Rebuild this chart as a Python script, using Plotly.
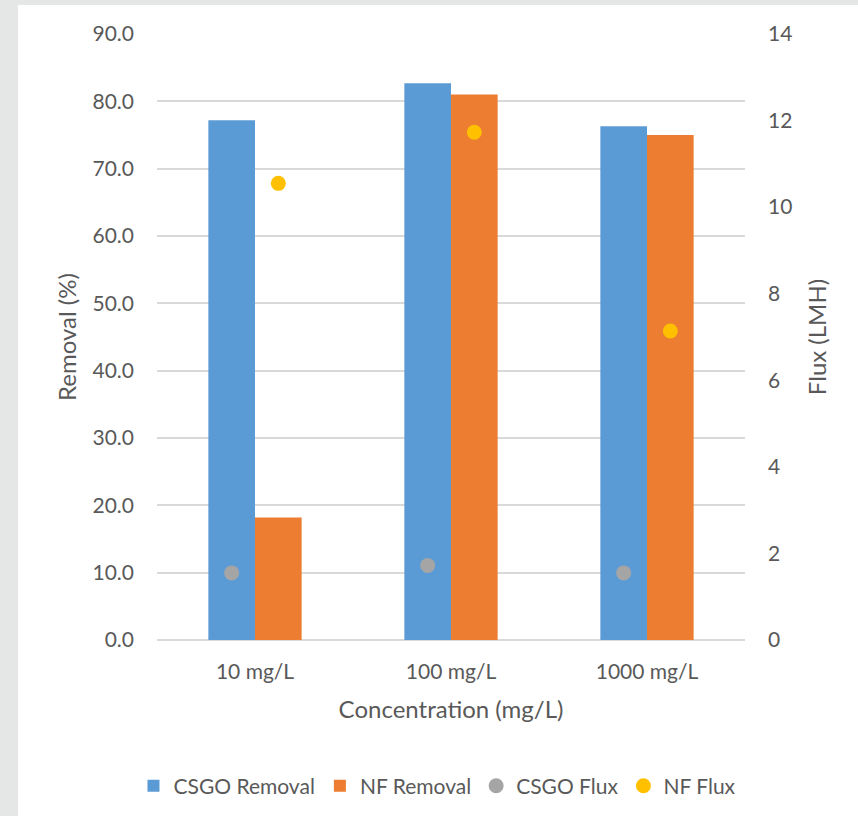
import plotly.graph_objects as go

# Concentration levels tested
categories = ["10 mg/L", "100 mg/L", "1000 mg/L"]

# Removal efficiency (%), left axis
csgo_removal = [77.2, 82.7, 76.3]
nf_removal = [18.2, 81.0, 75.0]

# Permeate flux (LMH), right axis
csgo_flux = [1.55, 1.72, 1.55]
nf_flux = [10.55, 11.73, 7.14]

left_ticks = [0, 10, 20, 30, 40, 50, 60, 70, 80, 90]
right_ticks = [0, 2, 4, 6, 8, 10, 12, 14]

FONT = "Lato"
TXT = "#595959"
BLUE, ORANGE, GREY, GOLD = "#5B9BD5", "#ED7D31", "#A5A5A5", "#FFC000"
GAP = 0.524

fig = go.Figure()
fig.add_trace(go.Bar(x=categories, y=csgo_removal, name="CSGO Removal",
                     marker=dict(color=BLUE, line=dict(width=0)), offsetgroup="a"))
fig.add_trace(go.Bar(x=categories, y=nf_removal, name="NF Removal",
                     marker=dict(color=ORANGE, line=dict(width=0)), offsetgroup="b"))
fig.add_trace(go.Scatter(x=categories, y=csgo_flux, name="CSGO Flux", mode="markers",
                         marker=dict(color=GREY, size=15), yaxis="y2",
                         offsetgroup="a"))
fig.add_trace(go.Scatter(x=categories, y=nf_flux, name="NF Flux", mode="markers",
                         marker=dict(color=GOLD, size=15), yaxis="y2",
                         offsetgroup="b"))

fig.update_layout(
    width=858, height=816,
    margin=dict(l=157, r=113, t=34, b=176, autoexpand=False),
    paper_bgcolor="#e4e7e5",
    plot_bgcolor="white",
    barmode="group", bargap=GAP, bargroupgap=0,
    scattermode="group", scattergap=GAP,
    font=dict(family=FONT, color=TXT, size=21),
    showlegend=True,
    legend=dict(orientation="h", x=-0.04, xanchor="left", y=-0.241, yanchor="middle",
                font=dict(size=21, color=TXT), itemwidth=30, traceorder="normal",
                bgcolor="rgba(0,0,0,0)"),
    xaxis=dict(
        type="category", showgrid=False, showline=False, zeroline=False,
        ticks="", ticklabelstandoff=17, tickfont=dict(size=21, color=TXT),
        automargin=False,
        title=dict(text="Concentration (mg/L)", font=dict(size=24, color=TXT), standoff=19),
    ),
    yaxis=dict(
        range=[0, 90], tickvals=left_ticks, tickformat=".1f",
        showgrid=True, gridcolor="#d9d9d9", gridwidth=1.5,
        zeroline=True, zerolinecolor="#d9d9d9", zerolinewidth=1.5,
        showline=False, ticks="", ticklabelstandoff=22, automargin=False,
        tickfont=dict(size=21, color=TXT),
        title=dict(text="Removal (%)", font=dict(size=24, color=TXT), standoff=9),
    ),
    yaxis2=dict(
        range=[0, 14], tickvals=right_ticks, overlaying="y", side="right",
        showgrid=False, zeroline=False, showline=False, ticks="", automargin=False,
        ticklabelstandoff=22, tickfont=dict(size=21, color=TXT),
        title=dict(text="Flux (LMH)", font=dict(size=24, color=TXT), standoff=17),
    ),
    shapes=[dict(type="rect", xref="paper", yref="paper", layer="below",
                 x0=(18 - 157) / 588, x1=(858 - 157) / 588,
                 y0=(640 - 816) / 606, y1=(640 - 5) / 606,
                 fillcolor="white", line=dict(width=0))],
)

fig.write_html("out.html")
